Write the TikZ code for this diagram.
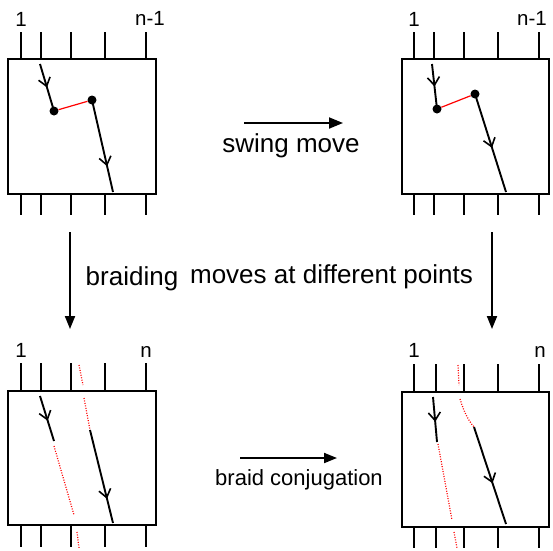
\documentclass[tikz,border=0pt]{standalone}
\usepackage{fontspec}
\setmainfont{Liberation Sans}
\usetikzlibrary{arrows.meta,decorations.markings}
\tikzset{
  boxframe/.style={line width=1.9pt},
  tickline/.style={line width=1.9pt},
  strand/.style={line width=1.9pt},
  midbarb/.style={postaction={decorate},decoration={markings,
     mark=at position #1 with {\arrow{Straight Barb[length=8pt,width=12pt,line width=1.6pt]}}}},
  redlink/.style={red,line width=1.2pt},
  reddot/.style={red,line width=1.2pt,dash pattern=on 1pt off 1.5pt},
  bigarrow/.style={line width=1.9pt,-{Triangle[length=13pt,width=10pt]}},
  blob/.style={circle,fill=black,inner sep=0pt,minimum size=9pt},
  lab/.style={anchor=base,inner sep=0pt,font=\fontsize{20.5}{24}\selectfont},
  bigtxt/.style={anchor=base,inner sep=0pt,font=\fontsize{26}{30}\selectfont},
  midtxt/.style={anchor=base,inner sep=0pt,font=\fontsize{22}{26}\selectfont},
}
\begin{document}
\begin{tikzpicture}[x=1pt,y=-1pt]
\useasboundingbox (0,0) rectangle (553,550);
% ---------- boxes and ticks ----------
\draw[boxframe] (8,59) rectangle (156,194);
\foreach \x in {21,41,71,105,146}{\draw[tickline] (\x,32) -- (\x,59); \draw[tickline] (\x,194) -- (\x,215);}
\draw[boxframe] (402,59) rectangle (549,194);
\foreach \x in {414,434,464,498,539}{\draw[tickline] (\x,32) -- (\x,59); \draw[tickline] (\x,194) -- (\x,215);}
\draw[boxframe] (8,391) rectangle (156,525);
\foreach \x in {21,41,71,105,146}{\draw[tickline] (\x,363) -- (\x,391); \draw[tickline] (\x,525) -- (\x,547);}
\draw[boxframe] (402,392) rectangle (549,527);
\foreach \x in {414,436,464,498,539}{\draw[tickline] (\x,364) -- (\x,392); \draw[tickline] (\x,527) -- (\x,548);}
% ---------- labels ----------
\node[lab] (l1a) at (21,26) {1};
\node[lab] (l1b) at (150,25) {n-1};
\node[lab] (l2a) at (414,26) {1};
\node[lab] (l2b) at (532,25) {n-1};
\node[lab] (l3a) at (21,357) {1};
\node[lab] (l3b) at (146,357) {n};
\node[lab] (l4a) at (414,357) {1};
\node[lab] (l4b) at (540,357) {n};
% ---------- top-left ----------
\coordinate (a0) at (40,64);
\node[blob] (a1) at (54,111) {};
\node[blob] (a2) at (92,100) {};
\coordinate (a3) at (113,192);
\draw[strand,midbarb=0.5] (a0) -- (a1.center);
\draw[strand,midbarb=0.72] (a2.center) -- (a3);
\draw[redlink] (a1) -- (a2);
% ---------- top-right ----------
\coordinate (b0) at (432,64);
\node[blob] (b1) at (437,109) {};
\node[blob] (b2) at (475,94) {};
\coordinate (b3) at (506,192);
\draw[strand,midbarb=0.5] (b0) -- (b1.center);
\draw[strand,midbarb=0.55] (b2.center) -- (b3);
\draw[redlink] (b1) -- (b2);
% ---------- bottom-left ----------
\coordinate (c0) at (40,396);
\coordinate (c1) at (54,441);
\coordinate (c2) at (54,446);
\coordinate (c3) at (74,515);
\coordinate (c4) at (77,532);
\coordinate (c5) at (79,548);
\coordinate (c6) at (79,365);
\coordinate (c7) at (83,385);
\coordinate (c8) at (84,398);
\coordinate (c9) at (90,430);
\coordinate (c10) at (113,523);
\draw[strand,midbarb=0.55] (c0) -- (c1);
\draw[reddot] (c2) -- (c3);
\draw[reddot] (c4) -- (c5);
\draw[reddot] (c6) -- (c7);
\draw[reddot] (c8) -- (c9);
\draw[strand,midbarb=0.74] (c9) -- (c10);
% ---------- bottom-right ----------
\coordinate (d0) at (433,397);
\coordinate (d1) at (437,442);
\coordinate (d2) at (438,444);
\coordinate (d3) at (452,520);
\coordinate (d4) at (454,532);
\coordinate (d5) at (457,548);
\coordinate (d6) at (458,365);
\coordinate (d7) at (459,385);
\coordinate (d8) at (460,399);
\coordinate (d9) at (474,427);
\coordinate (d10) at (506,524);
\draw[strand,midbarb=0.55] (d0) -- (d1);
\draw[reddot] (d2) -- (d3);
\draw[reddot] (d4) -- (d5);
\draw[reddot] (d6) -- (d7);
\draw[reddot] (d8) .. controls (464,412) and (468,420) .. (d9);
\draw[strand,midbarb=0.58] (d9) -- (d10);
% ---------- moves ----------
\coordinate (s0) at (244,123);
\coordinate (s1) at (343,123);
\draw[line width=1.9pt,-{Triangle[length=14pt,width=11pt]}] (s0) -- (s1);
\node[bigtxt] (swing) at (291,152) {swing move};
\coordinate (v0) at (70,232);
\coordinate (v1) at (70,329);
\coordinate (w0) at (492,232);
\coordinate (w1) at (492,329);
\draw[bigarrow] (v0) -- (v1);
\draw[bigarrow] (w0) -- (w1);
\node[bigtxt] (brd) at (132,285) {braiding};
\node[bigtxt] (mvs) at (331.5,283) {moves at different points};
\coordinate (t0) at (240,458);
\coordinate (t1) at (337,458);
\draw[line width=1.9pt,-{Triangle[length=13pt,width=10pt]}] (t0) -- (t1);
\node[midtxt] (conj) at (299,485) {braid conjugation};
\end{tikzpicture}
\end{document}
